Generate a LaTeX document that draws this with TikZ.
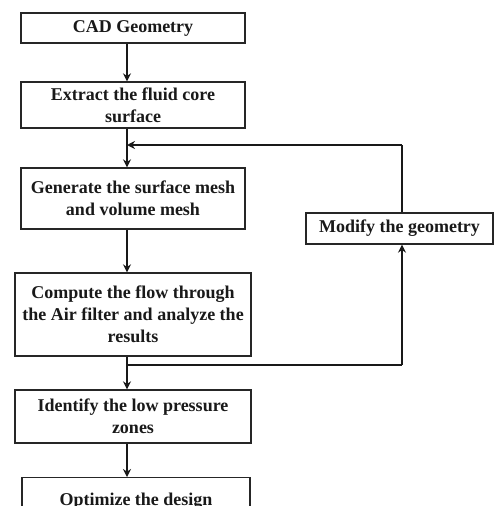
\documentclass[tikz,border=0pt]{standalone}
\usepackage{fontspec}
\setmainfont{Liberation Serif}
\usetikzlibrary{arrows.meta}
\begin{document}
\begin{tikzpicture}[x=1pt,y=-1pt,
  box/.style={draw=black!85, line width=1.3pt, fill=white, align=center, inner sep=0pt,
    font=\bfseries\fontsize{18}{22}\selectfont, text=black!90},
  arr/.style={line width=2pt, draw=black!90, -{Stealth[length=8pt,width=8pt]}},
  ln/.style={line width=2pt, draw=black!90}]
\clip (0,0) rectangle (494,506);
\fill[white] (0,0) rectangle (494,506);
\node[box, minimum width=224pt, minimum height=30pt] (cad) at (133,28) {CAD Geometry};
\node[box, minimum width=224pt, minimum height=46pt] (ext) at (133,105) {Extract the fluid core\\surface};
\node[box, minimum width=224pt, minimum height=61pt] (gen) at (133,198.5) {Generate the surface mesh\\and volume mesh};
\node[box, minimum width=236pt, minimum height=83pt] (comp) at (133,314.5) {Compute the flow through\\the Air filter and analyze the\\results};
\node[box, minimum width=236pt, minimum height=53pt] (iden) at (133,416.5) {Identify the low pressure\\zones};
\node[box, minimum width=228pt, minimum height=60pt, anchor=north] (opt) at (136,477) {\raisebox{0pt}[0pt][0pt]{}\\[-44pt]Optimize the design};
\node[box, minimum width=187pt, minimum height=31pt] (mod) at (399.5,228.5) {Modify the geometry};
\coordinate (ax) at (127,0);
\coordinate (rx) at (402,0);
\coordinate (j1) at (127,365);
\coordinate (j2) at (127,145);
\coordinate (c1) at (402,365);
\coordinate (c2) at (402,145);
\draw[arr] (cad.south -| ax) -- (ext.north -| ax);
\draw[arr] (ext.south -| ax) -- (gen.north -| ax);
\draw[arr] (gen.south -| ax) -- (comp.north -| ax);
\draw[arr] (comp.south -| ax) -- (iden.north -| ax);
\draw[arr] (iden.south -| ax) -- (opt.north -| ax);
\draw[ln] (j1) -- (c1);
\draw[arr] (c1) -- (mod.south -| rx);
\draw[ln] (mod.north -| rx) -- (c2);
\draw[arr] (c2) -- (j2);
\end{tikzpicture}
\end{document}
